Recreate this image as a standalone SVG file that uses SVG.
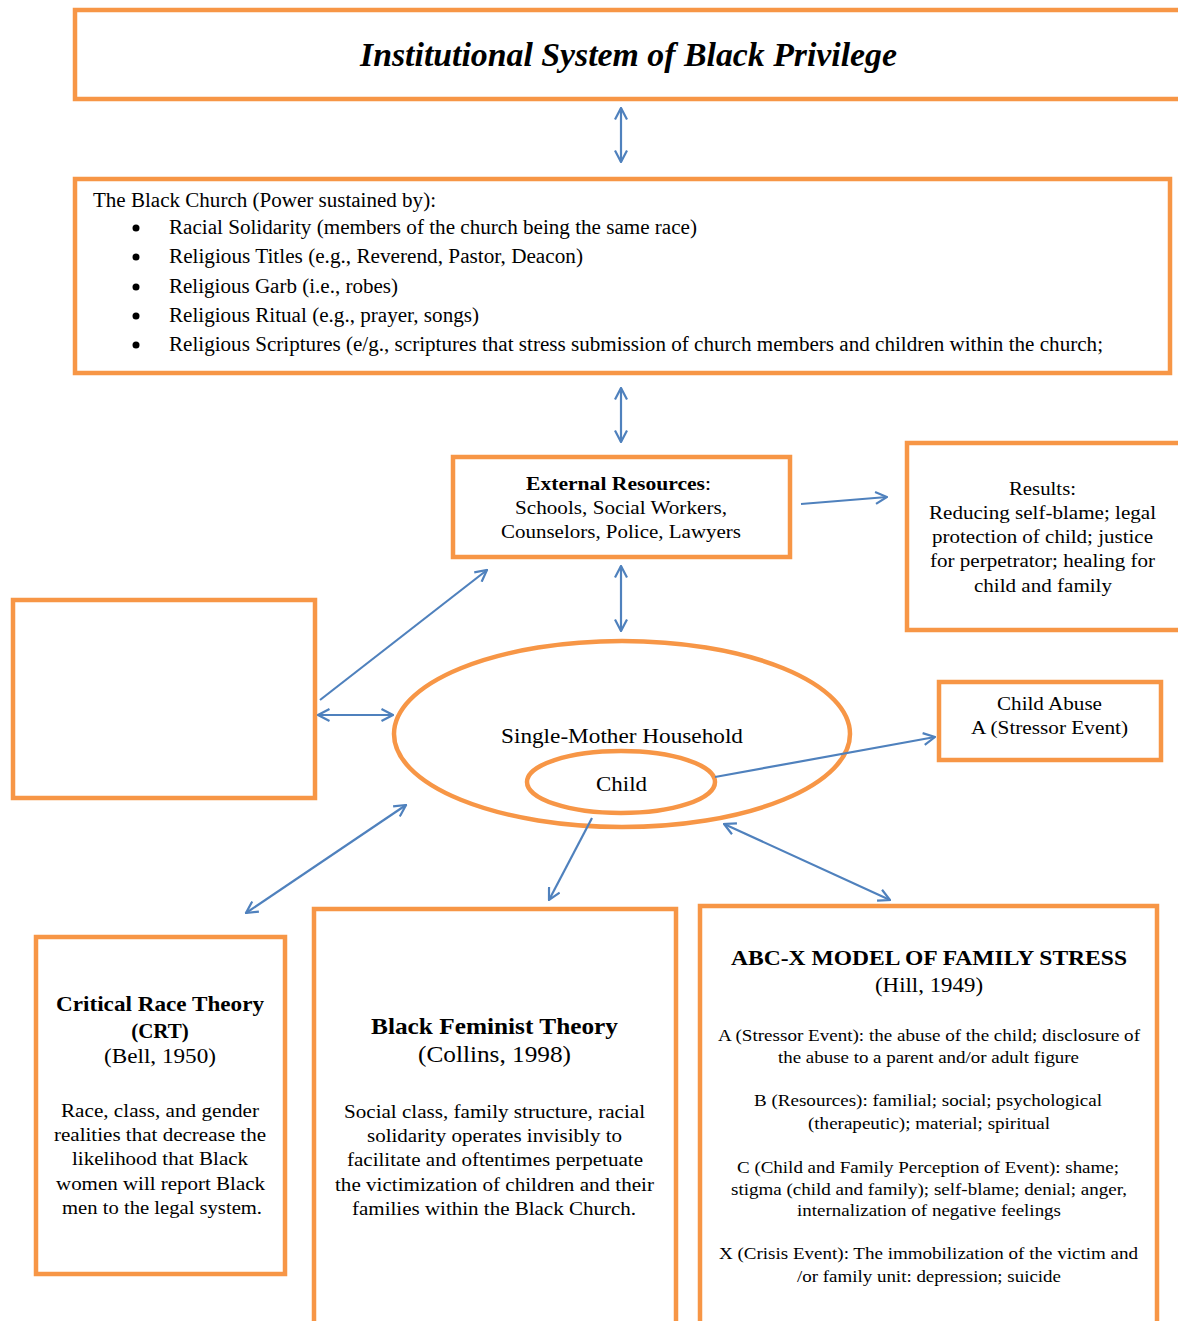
<svg xmlns="http://www.w3.org/2000/svg" width="1178" height="1321" viewBox="0 0 1178 1321">
<style>
.box{fill:#fff;stroke:#F79646;stroke-width:4.5}
.ell{fill:none;stroke:#F79646;stroke-width:4.5}
.t{font-family:"Liberation Serif","Times New Roman",serif;fill:#000}
.b{font-weight:bold}
.c{stroke:#4F81BD;stroke-width:2.2;fill:none}
</style>
<defs>
<marker id="ah" viewBox="0 0 14 14" refX="13" refY="7" markerWidth="14" markerHeight="14" markerUnits="userSpaceOnUse" orient="auto-start-reverse">
<path d="M1.5,1 L13,7 L1.5,13" fill="none" stroke="#4F81BD" stroke-width="2.2"/>
</marker>
</defs>
<rect width="1178" height="1321" fill="#fff"/>

<g id="title">
<rect class="box" x="75" y="10" width="1115" height="89" stroke-width="5"/>
<text class="t b" x="360" y="66" font-size="33" font-style="italic" textLength="537" lengthAdjust="spacingAndGlyphs">Institutional System of Black Privilege</text>
</g>

<g id="church">
<rect class="box" x="75" y="179" width="1095" height="194"/>
<text class="t" x="93" y="207" font-size="20" textLength="343" lengthAdjust="spacingAndGlyphs">The Black Church (Power sustained by):</text>
<g fill="#000">
<circle cx="136" cy="228" r="3.5"/>
<circle cx="136" cy="257" r="3.5"/>
<circle cx="136" cy="287" r="3.5"/>
<circle cx="136" cy="316" r="3.5"/>
<circle cx="136" cy="345" r="3.5"/>
</g>
<text class="t" x="169" y="234" font-size="20" textLength="528" lengthAdjust="spacingAndGlyphs">Racial Solidarity (members of the church being the same race)</text>
<text class="t" x="169" y="263" font-size="20" textLength="414" lengthAdjust="spacingAndGlyphs">Religious Titles (e.g., Reverend, Pastor, Deacon)</text>
<text class="t" x="169" y="293" font-size="20" textLength="229" lengthAdjust="spacingAndGlyphs">Religious Garb (i.e., robes)</text>
<text class="t" x="169" y="322" font-size="20" textLength="310" lengthAdjust="spacingAndGlyphs">Religious Ritual (e.g., prayer, songs)</text>
<text class="t" x="169" y="351" font-size="20" textLength="934" lengthAdjust="spacingAndGlyphs">Religious Scriptures (e/g., scriptures that stress submission of church members and children within the church;</text>
</g>

<g id="external">
<rect class="box" x="453" y="457" width="337" height="100"/>
<text class="t" x="526" y="490" font-size="19" textLength="185" lengthAdjust="spacingAndGlyphs"><tspan font-weight="bold">External Resources</tspan>:</text>
<text class="t" x="515" y="514" font-size="19" textLength="212" lengthAdjust="spacingAndGlyphs">Schools, Social Workers,</text>
<text class="t" x="501" y="538" font-size="19" textLength="240" lengthAdjust="spacingAndGlyphs">Counselors, Police, Lawyers</text>
</g>

<g id="results">
<rect class="box" x="907" y="443" width="285" height="187"/>
<text class="t" x="1009" y="495" font-size="19" textLength="67" lengthAdjust="spacingAndGlyphs">Results:</text>
<text class="t" x="929" y="519" font-size="19" textLength="227" lengthAdjust="spacingAndGlyphs">Reducing self-blame; legal</text>
<text class="t" x="932" y="543" font-size="19" textLength="221" lengthAdjust="spacingAndGlyphs">protection of child; justice</text>
<text class="t" x="930" y="567" font-size="19" textLength="225" lengthAdjust="spacingAndGlyphs">for perpetrator; healing for</text>
<text class="t" x="974" y="592" font-size="19" textLength="138" lengthAdjust="spacingAndGlyphs">child and family</text>
</g>

<g id="empty">
<rect class="box" x="13" y="600" width="302" height="198"/>
</g>

<g id="household">
<ellipse class="ell" cx="622" cy="734" rx="228" ry="93"/>
<text class="t" x="501" y="743" font-size="21" textLength="242" lengthAdjust="spacingAndGlyphs">Single-Mother Household</text>
</g>

<g id="child">
<ellipse class="ell" cx="621" cy="782" rx="94" ry="31"/>
<text class="t" x="596" y="791" font-size="21" textLength="51" lengthAdjust="spacingAndGlyphs">Child</text>
</g>

<g id="abuse">
<rect class="box" x="939" y="682" width="222" height="78"/>
<text class="t" x="997" y="710" font-size="19" textLength="105" lengthAdjust="spacingAndGlyphs">Child Abuse</text>
<text class="t" x="971" y="734" font-size="19" textLength="157" lengthAdjust="spacingAndGlyphs">A (Stressor Event)</text>
</g>

<g id="crt">
<rect class="box" x="36" y="937" width="249" height="337"/>
<text class="t b" x="56" y="1011" font-size="21" textLength="208" lengthAdjust="spacingAndGlyphs">Critical Race Theory</text>
<text class="t b" x="160" y="1038" font-size="21" text-anchor="middle">(CRT)</text>
<text class="t" x="104" y="1063" font-size="21" textLength="112" lengthAdjust="spacingAndGlyphs">(Bell, 1950)</text>
<text class="t" x="61" y="1117" font-size="19" textLength="198" lengthAdjust="spacingAndGlyphs">Race, class, and gender</text>
<text class="t" x="54" y="1141" font-size="19" textLength="212" lengthAdjust="spacingAndGlyphs">realities that decrease the</text>
<text class="t" x="72" y="1165" font-size="19" textLength="176" lengthAdjust="spacingAndGlyphs">likelihood that Black</text>
<text class="t" x="56" y="1190" font-size="19" textLength="209" lengthAdjust="spacingAndGlyphs">women will report Black</text>
<text class="t" x="62" y="1214" font-size="19" textLength="200" lengthAdjust="spacingAndGlyphs">men to the legal system.</text>
</g>

<g id="bft">
<rect class="box" x="314" y="909" width="362" height="440"/>
<text class="t b" x="371" y="1034" font-size="23" textLength="247" lengthAdjust="spacingAndGlyphs">Black Feminist Theory</text>
<text class="t" x="418" y="1062" font-size="23" textLength="153" lengthAdjust="spacingAndGlyphs">(Collins, 1998)</text>
<text class="t" x="344" y="1118" font-size="19" textLength="301" lengthAdjust="spacingAndGlyphs">Social class, family structure, racial</text>
<text class="t" x="367" y="1142" font-size="19" textLength="255" lengthAdjust="spacingAndGlyphs">solidarity operates invisibly to</text>
<text class="t" x="347" y="1166" font-size="19" textLength="296" lengthAdjust="spacingAndGlyphs">facilitate and oftentimes perpetuate</text>
<text class="t" x="335" y="1191" font-size="19" textLength="319" lengthAdjust="spacingAndGlyphs">the victimization of children and their</text>
<text class="t" x="352" y="1215" font-size="19" textLength="284" lengthAdjust="spacingAndGlyphs">families within the Black Church.</text>
</g>

<g id="abcx">
<rect class="box" x="700" y="906" width="457" height="440"/>
<text class="t b" x="731" y="965" font-size="21" textLength="396" lengthAdjust="spacingAndGlyphs">ABC-X MODEL OF FAMILY STRESS</text>
<text class="t" x="875" y="992" font-size="21" textLength="108" lengthAdjust="spacingAndGlyphs">(Hill, 1949)</text>
<text class="t" x="718" y="1041" font-size="17" textLength="422" lengthAdjust="spacingAndGlyphs">A (Stressor Event): the abuse of the child; disclosure of</text>
<text class="t" x="778" y="1063" font-size="17" textLength="301" lengthAdjust="spacingAndGlyphs">the abuse to a parent and/or adult figure</text>
<text class="t" x="754" y="1106" font-size="17" textLength="348" lengthAdjust="spacingAndGlyphs">B (Resources): familial; social; psychological</text>
<text class="t" x="808" y="1129" font-size="17" textLength="242" lengthAdjust="spacingAndGlyphs">(therapeutic); material; spiritual</text>
<text class="t" x="737" y="1173" font-size="17" textLength="382" lengthAdjust="spacingAndGlyphs">C (Child and Family Perception of Event): shame;</text>
<text class="t" x="731" y="1195" font-size="17" textLength="396" lengthAdjust="spacingAndGlyphs">stigma (child and family); self-blame; denial; anger,</text>
<text class="t" x="797" y="1216" font-size="17" textLength="264" lengthAdjust="spacingAndGlyphs">internalization of negative feelings</text>
<text class="t" x="719" y="1259" font-size="17" textLength="419" lengthAdjust="spacingAndGlyphs">X (Crisis Event): The immobilization of the victim and</text>
<text class="t" x="797" y="1282" font-size="17" textLength="264" lengthAdjust="spacingAndGlyphs">/or family unit: depression; suicide</text>
</g>

<g id="connectors">
<line class="c" x1="621" y1="108" x2="621" y2="162" marker-start="url(#ah)" marker-end="url(#ah)"/>
<line class="c" x1="621" y1="388" x2="621" y2="442" marker-start="url(#ah)" marker-end="url(#ah)"/>
<line class="c" x1="801" y1="504" x2="887" y2="497" marker-end="url(#ah)"/>
<line class="c" x1="621" y1="566" x2="621" y2="631" marker-start="url(#ah)" marker-end="url(#ah)"/>
<line class="c" x1="320" y1="700" x2="487" y2="570" marker-end="url(#ah)"/>
<line class="c" x1="318" y1="715" x2="393" y2="715" marker-start="url(#ah)" marker-end="url(#ah)"/>
<line class="c" x1="715" y1="777" x2="935" y2="737" marker-end="url(#ah)"/>
<line class="c" x1="246" y1="913" x2="406" y2="805" marker-start="url(#ah)" marker-end="url(#ah)"/>
<line class="c" x1="592" y1="818" x2="549" y2="900" marker-end="url(#ah)"/>
<line class="c" x1="724" y1="824" x2="890" y2="900" marker-start="url(#ah)" marker-end="url(#ah)"/>
</g>
</svg>
